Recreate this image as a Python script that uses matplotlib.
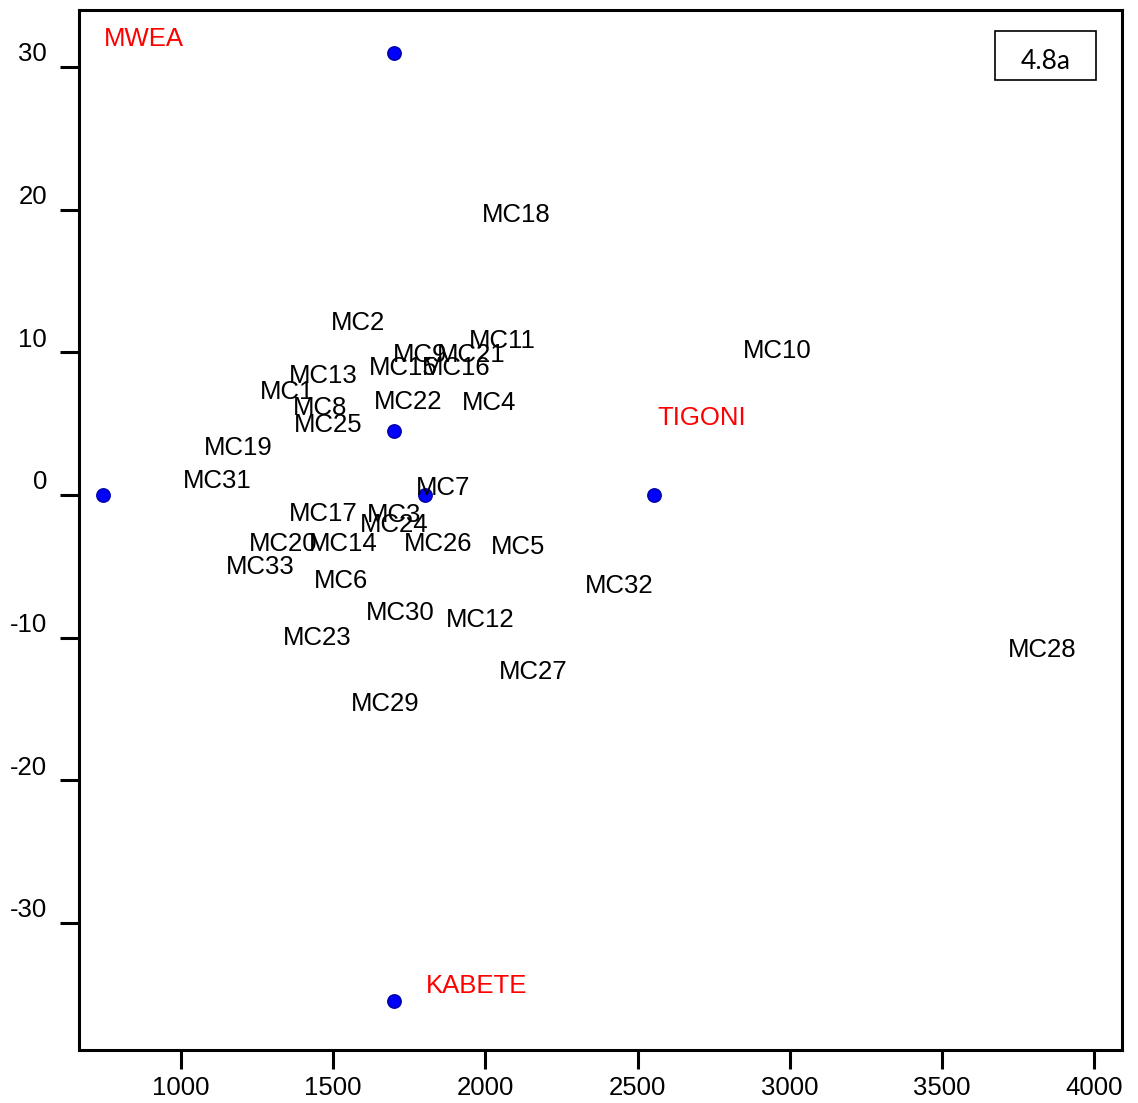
import numpy as np
import matplotlib.pyplot as plt
import matplotlib.transforms as mtransforms
from matplotlib.patches import Rectangle

plt.rcParams['font.family'] = ['Liberation Sans', 'DejaVu Sans']
plt.rcParams['axes.unicode_minus'] = False

# species scores (labels only)
sp_names = ['MC18', 'MC2', 'MC11', 'MC10', 'MC9', 'MC21', 'MC15', 'MC16',
            'MC13', 'MC1', 'MC8', 'MC22', 'MC4', 'MC25', 'MC19', 'MC31',
            'MC7', 'MC17', 'MC3', 'MC24', 'MC20', 'MC14', 'MC26', 'MC5',
            'MC33', 'MC6', 'MC32', 'MC30', 'MC12', 'MC23', 'MC28', 'MC27',
            'MC29']
sp_x = [2100, 1581, 2057, 2960, 1785, 1952, 1732, 1903,
        1469, 1348, 1456, 1745, 2011, 1483, 1187, 1118,
        1860, 1469, 1699, 1699, 1335, 1532, 1844, 2106,
        1259, 1525, 2441, 1719, 1982, 1446, 3830, 2156,
        1670]
sp_y = [19.8, 12.2, 10.9, 10.2, 9.95, 9.95, 9.04, 9.04,
        8.48, 7.36, 6.24, 6.66, 6.59, 5.05, 3.43, 1.12,
        0.63, -1.19, -1.26, -1.96, -3.29, -3.29, -3.29, -3.5,
        -4.9, -5.89, -6.24, -8.13, -8.62, -9.88, -10.72, -12.26,
        -14.5]

# sample points
pt_x = [1700, 744, 1801, 2553, 1700, 1700]
pt_y = [31.0, 0.0, 0.0, 0.0, 4.5, -35.5]

# site labels
site_names = ['MWEA', 'TIGONI', 'KABETE']
site_x = [879, 2710, 1972]
site_y = [32.1, 5.54, -34.3]

fig = plt.figure(figsize=(11.38, 11.03), dpi=100)
ax = fig.add_axes([0.0694, 0.0481, 0.9166, 0.9429])

ax.plot(pt_x, pt_y, 'o', color='#0000ff', markeredgecolor='#0000b0',
        markeredgewidth=1.2, markersize=9.5, zorder=3)

# nudge labels down a touch so the glyphs sit on the score
down = ax.transData + mtransforms.ScaledTranslation(0, -2 / 100, fig.dpi_scale_trans)
for name, x, y in zip(sp_names, sp_x, sp_y):
    ax.text(x, y, name, fontsize=18.5, ha='center', va='center',
            color='black', transform=down)

for name, x, y in zip(site_names, site_x, site_y):
    ax.text(x, y, name, fontsize=18.5, ha='center', va='center',
            color='red', transform=down)

ax.set_xlim(665, 4092)
ax.set_ylim(-38.9, 34.0)
ax.set_xticks([1000, 1500, 2000, 2500, 3000, 3500, 4000])
ax.set_yticks([-30, -20, -10, 0, 10, 20, 30])

for s in ax.spines.values():
    s.set_linewidth(2.2)
ax.tick_params(axis='both', direction='out', length=14, width=2.2,
               labelsize=18.5)
ax.tick_params(axis='x', pad=5)
ax.tick_params(axis='y', pad=9)

# y labels sit a little above their ticks
offset = mtransforms.ScaledTranslation(0, 15 / 100, fig.dpi_scale_trans)
for lab in ax.get_yticklabels():
    lab.set_transform(lab.get_transform() + offset)

# panel tag
ax.add_patch(Rectangle((0.878, 0.933), 0.0968, 0.0471, transform=ax.transAxes,
                       fill=False, edgecolor='black', linewidth=1.2))
ax.text(0.878 + 0.0968 / 2, 0.933 + 0.0471 / 2 - 0.006, '4.8a',
        transform=ax.transAxes, ha='center', va='center', fontsize=19,
        family=['Lato', 'DejaVu Sans'])

fig.savefig('out.png', dpi=100)
